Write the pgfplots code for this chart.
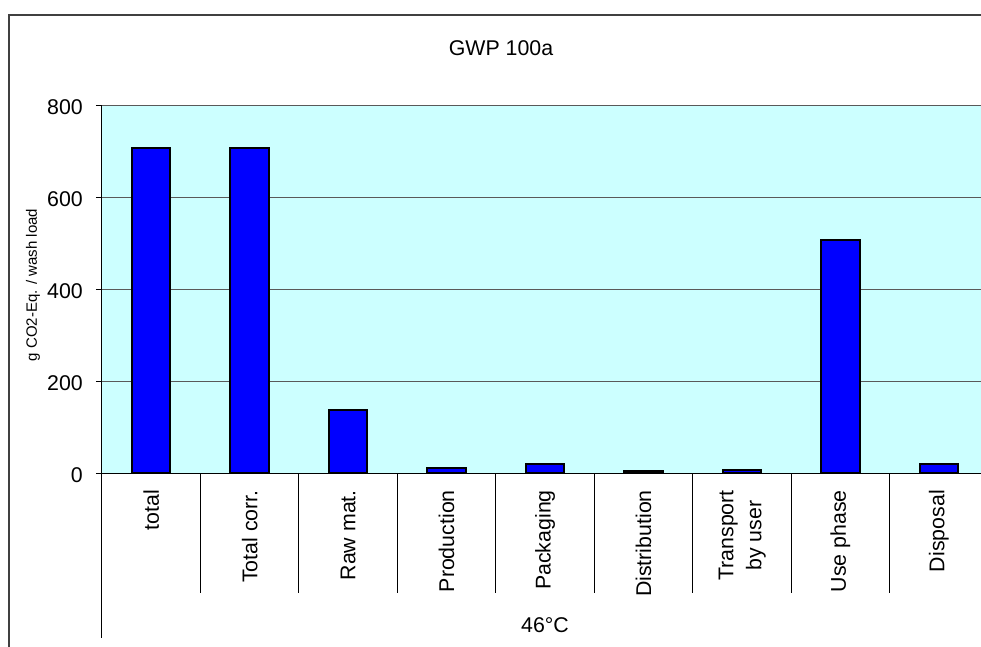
\documentclass[border=0pt]{standalone}
\usepackage{pgfplots}
\pgfplotsset{compat=1.18}
\usepackage{fontspec}
\setmainfont{Liberation Sans}
\definecolor{plotbg}{HTML}{CCFFFF}
\definecolor{barblue}{HTML}{0000FF}
\definecolor{framegray}{HTML}{404040}

\begin{document}
\begin{tikzpicture}[x=0.75pt,y=0.75pt]
\useasboundingbox (-102,-172.7) rectangle (879,473.3);
\clip (-102,-172.7) rectangle (879,473.3);
% chart area frame
\draw[framegray, line width=1.5pt] (-93,-200) -- (-93,458.3) -- (950,458.3);
\node[anchor=base, inner sep=0pt, font=\fontsize{16}{19}\selectfont] at (399,417.3) {GWP 100a};
\begin{axis}[
  at={(0,0)}, anchor=south west,
  scale only axis, width=664.5pt, height=276.2pt,
  xmin=-0.5, xmax=8.5, ymin=0, ymax=800,
  axis x line*=bottom, axis y line*=left,
  axis line style={black, line width=0.75pt},
  axis background/.style={fill=plotbg},
  ybar, bar width=0.39,
  ytick={0,200,400,600,800},
  ymajorgrids, major grid style={black!65, line width=0.75pt},
  tick align=outside, major tick length=4.5pt,
  ytick style={black, line width=0.75pt},
  xtick={0,...,8}, xtick style={draw=none},
  xticklabels={total, Total corr., Raw mat., Production, Packaging, Distribution,
    {\begin{tabular}{@{}c@{}}Transport\\by user\end{tabular}}, Use phase, Disposal},
  xticklabel style={yshift=-8pt, rotate=90, anchor=east, inner sep=0pt, font=\fontsize{16}{21}\selectfont},
  yticklabel style={xshift=-9.75pt, yshift=-1.5pt, anchor=east, inner sep=0pt, font=\fontsize{16}{19}\selectfont},
  /pgf/number format/assume math mode=true,
  clip=false,
]
\addplot[fill=barblue, draw=black, line width=1.5pt] coordinates {
  (0,707) (1,707) (2,138) (3,11) (4,20) (5,4) (6,8) (7,507) (8,20)};
% category separators below the axis
\draw[black, line width=0.75pt] (axis cs:-0.5,0) -- ++(0pt,-123.5pt);
\draw[black, line width=0.75pt] (axis cs:0.5,0) -- ++(0pt,-89.8pt);
\draw[black, line width=0.75pt] (axis cs:1.5,0) -- ++(0pt,-89.8pt);
\draw[black, line width=0.75pt] (axis cs:2.5,0) -- ++(0pt,-89.8pt);
\draw[black, line width=0.75pt] (axis cs:3.5,0) -- ++(0pt,-89.8pt);
\draw[black, line width=0.75pt] (axis cs:4.5,0) -- ++(0pt,-89.8pt);
\draw[black, line width=0.75pt] (axis cs:5.5,0) -- ++(0pt,-89.8pt);
\draw[black, line width=0.75pt] (axis cs:6.5,0) -- ++(0pt,-89.8pt);
\draw[black, line width=0.75pt] (axis cs:7.5,0) -- ++(0pt,-89.8pt);
\draw[black, line width=0.75pt] (axis cs:8.5,0) -- ++(0pt,-123.5pt);
\end{axis}
\node[anchor=base, inner sep=0pt, font=\fontsize{16}{19}\selectfont] at (443,-159) {46°C};
\node[rotate=90, anchor=base, inner sep=0pt, font=\fontsize{11.25}{13}\selectfont] at (-65,188.3) {g CO2-Eq. / wash load};
\end{tikzpicture}
\end{document}
